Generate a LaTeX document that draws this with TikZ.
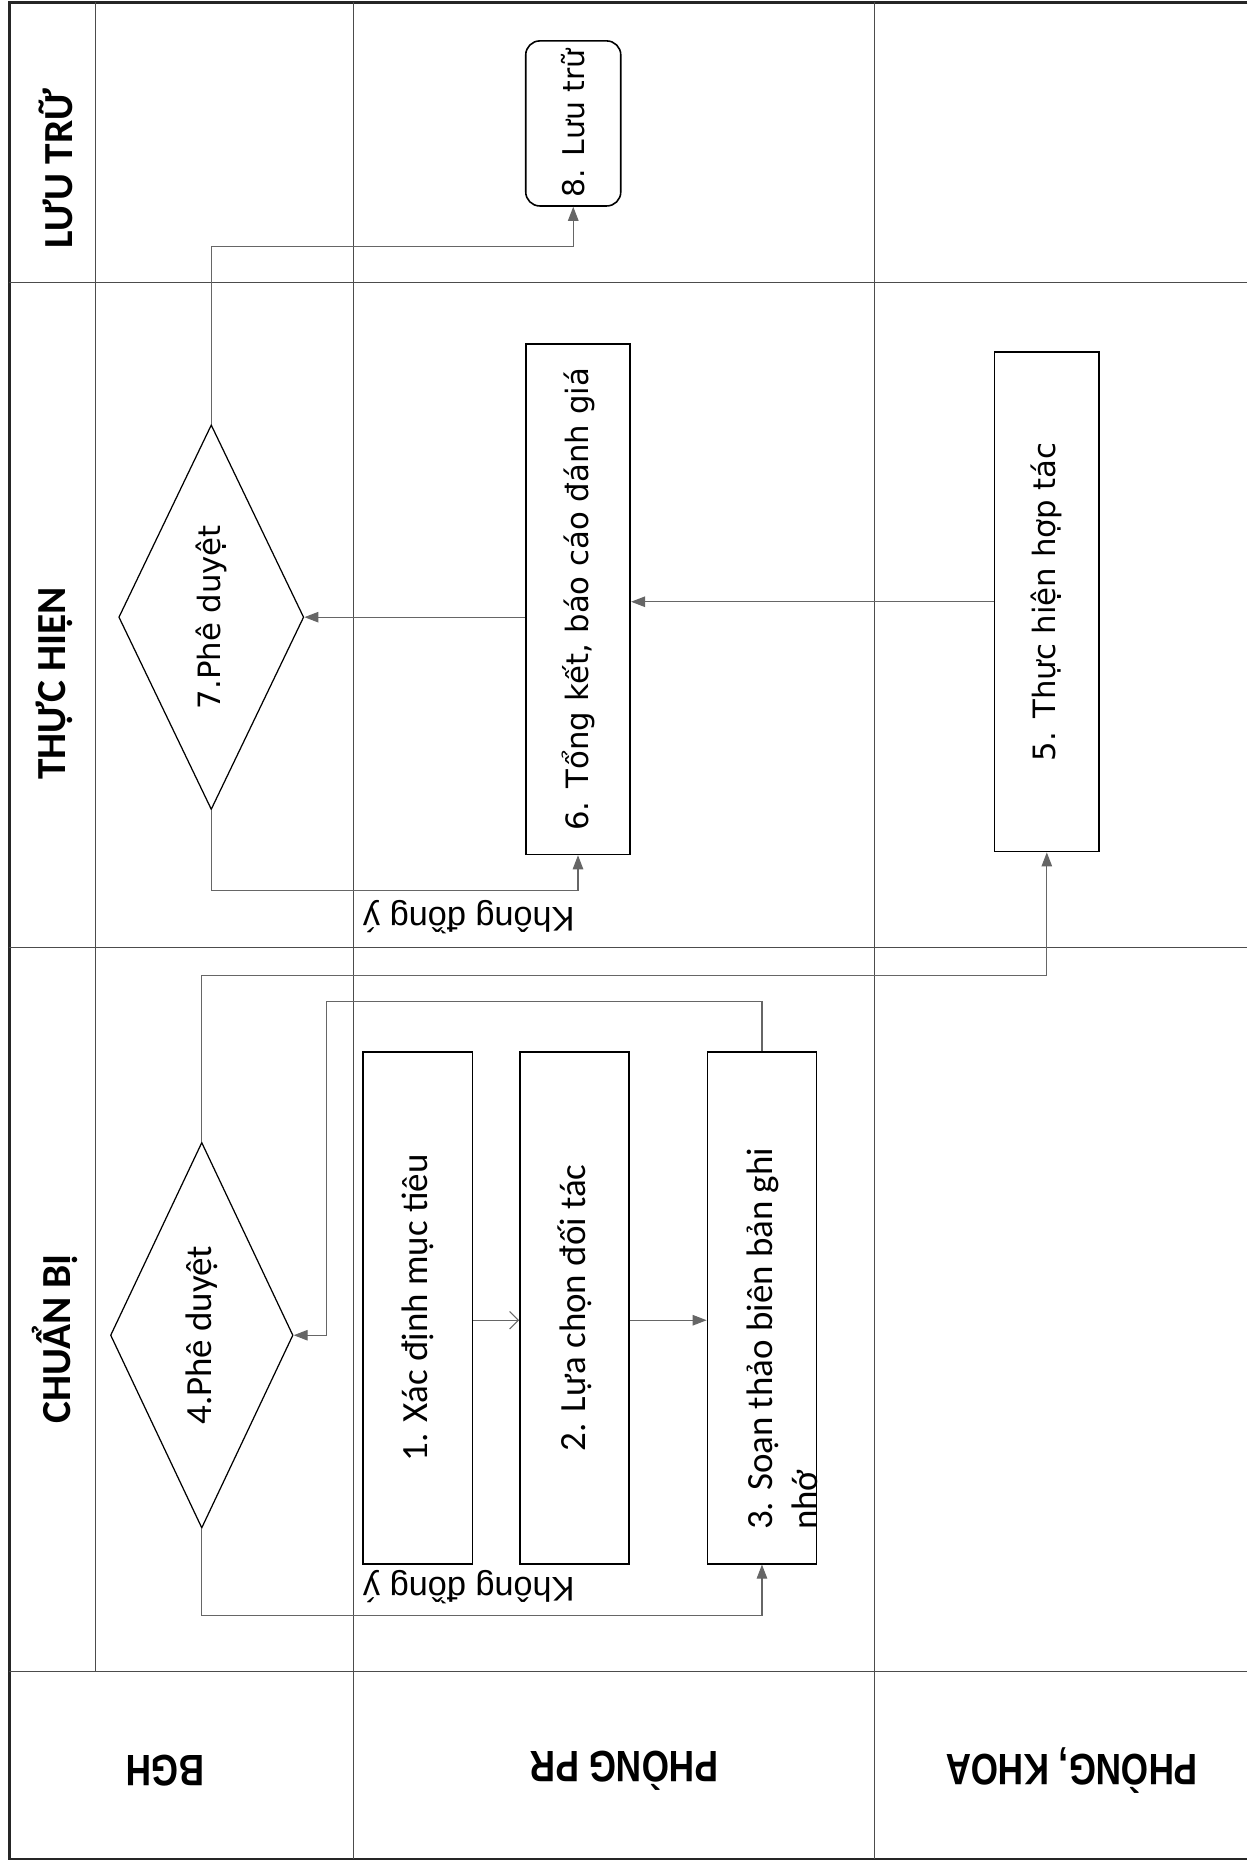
\documentclass[tikz,border=0pt]{standalone}
\usepackage{fontspec}
\setmainfont{Carlito}
\newfontfamily\djfont{DejaVu Sans}
\newfontfamily\lsfont{Liberation Sans}
\newfontfamily\lsnarrow[FakeStretch=0.8]{Liberation Sans}
\usetikzlibrary{arrows.meta, shapes.geometric}
\tikzset{
		frame/.style={draw=black!85, line width=1.3pt},
		lane/.style={draw=black!70, line width=0.5pt},
		phase/.style={rotate=90, font=\bfseries\fontsize{23.5}{28}\selectfont},
		dept/.style={rotate=180, font=\lsnarrow\bfseries\fontsize{25}{30}\selectfont},
		nolabel/.style={rotate=180, font=\lsfont\fontsize{19.5}{23}\selectfont},
		stepbox/.style={draw, line width=0.9pt, rotate=90, inner sep=2pt,
			font=\fontsize{21}{25.6}\selectfont},
		wide text/.style={font=\djfont\fontsize{17.5}{21}\selectfont},
		decide/.style={draw, diamond, line width=0.7pt, rotate=90, inner sep=0pt, aspect=2},
		flow/.style={draw=black!60, line width=0.6pt, -{Triangle[length=8pt,width=6pt]}},
		openflow/.style={draw=black!60, line width=0.6pt, -{Straight Barb[length=5pt,width=10pt]}}
	}
\begin{document}
\begin{tikzpicture}[x=0.02373cm, y=-0.02373cm]
	\useasboundingbox (0,0) rectangle (1051,1568);

	% swimlanes
	\draw[frame] (1051,2) -- (8,2) -- (8,1566) -- (1051,1566);
	\draw[lane] (80,2) -- (80,1408);
	\foreach \x in {298,737} \draw[lane] (\x,2) -- (\x,1566);
	\foreach \y in {238,798,1408} \draw[lane] (8,\y) -- (1051,\y);

	\node[phase] (hLuu)   at (47,142)  {LƯU TRỮ};
	\node[phase] (hThuc)  at (46,576)  {THỰC HIỆN};
	\node[phase] (hChuan) at (46,1128) {CHUẨN BỊ};

	\node[dept] (hBGH)  at (139,1492) {BGH};
	\node[dept] (hPR)   at (526,1492) {PHÒNG PR};
	\node[dept] (hKhoa) at (903,1492) {PHÒNG, KHOA};

	% steps
	\node[stepbox, minimum width=10.23cm, minimum height=2.18cm] (b1) at (352,1102) {1. Xác định mục tiêu};
	\node[stepbox, minimum width=10.23cm, minimum height=2.18cm] (b2) at (484,1102) {2. Lựa chọn đối tác};
	\node[stepbox, minimum width=10.23cm, minimum height=2.18cm] (b3) at (642,1102) {};
	\node[rotate=90, align=left, font=\fontsize{21}{25.6}\selectfont] (b3text) at (659,1128)
		{3. Soạn thảo biên bản ghi\\nhớ};
	\node[decide, minimum width=7.71cm, minimum height=3.65cm, font=\fontsize{21}{25.6}\selectfont]
		(d4) at (170,1125) {4.Phê duyệt};
	\node[stepbox, wide text, minimum width=9.99cm, minimum height=2.09cm] (b5) at (882,507) {5. Thực hiện hợp tác};
	\node[stepbox, wide text, minimum width=10.20cm, minimum height=2.09cm] (b6) at (487,505) {6. Tổng kết, báo cáo đánh giá};
	\node[decide, wide text, minimum width=7.69cm, minimum height=3.70cm] (d7) at (178,520) {7.Phê duyệt};
	\node[stepbox, wide text, rounded corners=8pt, minimum width=3.30cm, minimum height=1.90cm,
		font=\djfont\fontsize{17}{20}\selectfont] (b8) at (483,104) {8. Lưu trữ};

	% connectors
	\draw[openflow] ([yshift=-7pt]b1.south) -- ([yshift=-7pt]b2.north);
	\draw[flow] ([yshift=-7pt]b2.south) -- ([yshift=-7pt]b3.north);
	\draw[flow] (b3.east) |- ++(-367,-42) |- (d4.south);
	\draw[flow] (d4.west) -- ++(0,73) -| (b3.west);
	\draw[flow] (d4.east) -- ++(0,-140) -| (b5.west);
	\draw[flow] (b5.north) -- (b5.north -| b6.south);
	\draw[flow] (b6.north |- d7.south) -- (d7.south);
	\draw[flow] (d7.west) -- ++(0,68) -| (b6.west);
	\draw[flow] (d7.east) -- ++(0,-150) -| (b8.west);

	\node[nolabel] (no7) at (395,773)  {Không đồng ý};
	\node[nolabel] (no4) at (395,1337) {Không đồng ý};
\end{tikzpicture}
\end{document}
